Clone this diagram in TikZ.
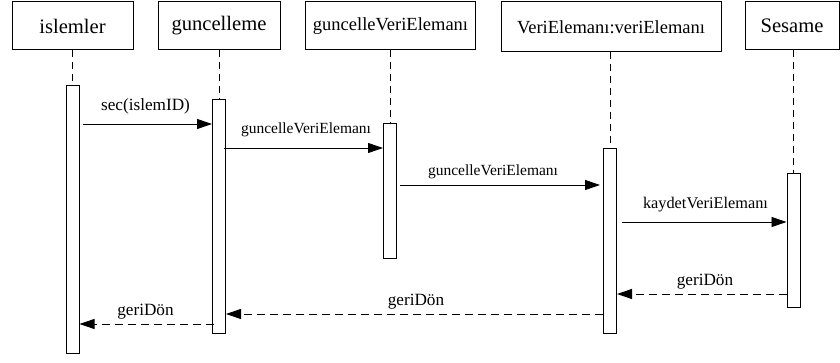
\documentclass[tikz,border=0pt]{standalone}
\usepackage{fontspec}
\setmainfont{Liberation Serif}
\usetikzlibrary{arrows.meta}
\begin{document}
\begin{tikzpicture}[x=1pt,y=-1pt,
  obj/.style={draw,line width=1pt,inner sep=0pt,minimum height=48pt,fill=white},
  bar/.style={draw,line width=1pt,inner sep=0pt,minimum width=13pt,anchor=north,fill=white},
  life/.style={line width=0.9pt,dash pattern=on 7pt off 5pt},
  call/.style={line width=0.9pt,-{Triangle[length=15pt,width=10pt]}},
  ret/.style={line width=0.9pt,dash pattern=on 8pt off 5pt,-{Triangle[length=15pt,width=10pt]}},
  big/.style={font=\fontsize{20.6}{24}\selectfont},
  mid/.style={font=\fontsize{18.5}{22}\selectfont},
  lbl/.style={anchor=base,inner sep=0pt}
]
\useasboundingbox (0,0) rectangle (840,363);
% objects
\node[obj,big,minimum width=121pt] (o1) at (72.5,26) {islemler};
\node[obj,big,minimum width=122pt] (o2) at (219,26) {guncelleme};
\node[obj,mid,minimum width=170pt] (o3) at (390.5,26) {guncelleVeriElemanı};
\node[obj,mid,minimum width=220pt,minimum height=50pt] (o4) at (611,27) {VeriElemanı:veriElemanı};
\node[obj,big,minimum width=94pt] (o5) at (792,26) {Sesame};
% activation bars
\node[bar,minimum height=268pt] (b1) at (72.5,85) {};
\node[bar,minimum height=234pt] (b2) at (219,99) {};
\node[bar,minimum height=135pt] (b3) at (390,123) {};
\node[bar,minimum height=185pt] (b4) at (610,148) {};
\node[bar,minimum height=134pt] (b5) at (793.5,173) {};
% lifelines
\draw[life] (o1.south) -- (b1.north);
\draw[life] (o2.south -| b2.north) -- (b2.north);
\draw[life] (o3.south -| b3.north) -- (b3.north);
\draw[life] (o4.south -| b4.north) -- (b4.north);
\draw[life] (o5.south -| b5.north) -- (b5.north);
% message levels
\coordinate (m1) at (0,124);
\coordinate (m2) at (0,148);
\coordinate (m3) at (0,185);
\coordinate (m4) at (0,222);
\coordinate (m5) at (0,294);
\coordinate (m6) at (0,314);
\coordinate (m7) at (0,324);
% messages
\draw[call] ([xshift=3pt]b1.east |- m1) -- (b2.west |- m1);
\draw[call] ([xshift=-2pt]b2.east |- m2) -- (b3.west |- m2);
\draw[call] ([xshift=3pt]b3.east |- m3) -- ([xshift=-3pt]b4.west |- m3);
\draw[call] ([xshift=5pt]b4.east |- m4) -- (b5.west |- m4);
\draw[ret] (b5.west |- m5) -- (b4.east |- m5);
\draw[ret] (b4.west |- m6) -- (b2.east |- m6);
\draw[ret] ([xshift=2pt]b2.west |- m7) -- (b1.east |- m7);
% labels
\node[lbl,font=\fontsize{17.2}{20}\selectfont] (t1) at (145.5,111) {sec(islemID)};
\node[lbl,font=\fontsize{15.5}{18}\selectfont] (t2) at (306,134) {guncelleVeriElemanı};
\node[lbl,font=\fontsize{15.5}{18}\selectfont] (t3) at (493,175.5) {guncelleVeriElemanı};
\node[lbl,font=\fontsize{16.3}{19}\selectfont] (t4) at (705.5,209) {kaydetVeriElemanı};
\node[lbl,font=\fontsize{17.2}{20}\selectfont] (t5) at (705,285) {geriDön};
\node[lbl,font=\fontsize{17.2}{20}\selectfont] (t6) at (416,305.5) {geriDön};
\node[lbl,font=\fontsize{17.2}{20}\selectfont] (t7) at (145.5,315) {geriDön};
\end{tikzpicture}
\end{document}
